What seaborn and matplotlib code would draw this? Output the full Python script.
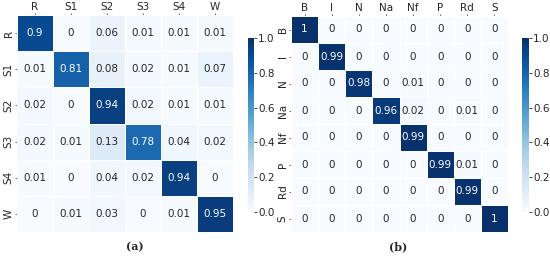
import matplotlib
matplotlib.use("Agg")
import matplotlib.pyplot as plt
import seaborn as sns
import numpy as np

labels_a = ["R", "S1", "S2", "S3", "S4", "W"]
row_R = [0.9, 0, 0.06, 0.01, 0.01, 0.01]
row_S1 = [0.01, 0.81, 0.08, 0.02, 0.01, 0.07]
row_S2 = [0.02, 0, 0.94, 0.02, 0.01, 0.01]
row_S3 = [0.02, 0.01, 0.13, 0.78, 0.04, 0.02]
row_S4 = [0.01, 0, 0.04, 0.02, 0.94, 0]
row_W = [0, 0.01, 0.03, 0, 0.01, 0.95]

labels_b = ["B", "I", "N", "Na", "Nf", "P", "Rd", "S"]
row_B = [1, 0, 0, 0, 0, 0, 0, 0]
row_I = [0, 0.99, 0, 0, 0, 0, 0, 0]
row_N = [0, 0, 0.98, 0, 0.01, 0, 0, 0]
row_Na = [0, 0, 0, 0.96, 0.02, 0, 0.01, 0]
row_Nf = [0, 0, 0, 0, 0.99, 0, 0, 0]
row_P = [0, 0, 0, 0, 0, 0.99, 0.01, 0]
row_Rd = [0, 0, 0, 0, 0, 0, 0.99, 0]
row_S = [0, 0, 0, 0, 0, 0, 0, 1]

mat_a = np.array([row_R, row_S1, row_S2, row_S3, row_S4, row_W])
mat_b = np.array([row_B, row_I, row_N, row_Na, row_Nf, row_P, row_Rd, row_S])

sns.set_theme(style="white")
plt.rcParams['font.family'] = ['DejaVu Sans']

fig = plt.figure(figsize=(5.5, 2.62), dpi=100)
W, H = 550.0, 262.0

def ax_px(x0, y0, x1, y1):
    return fig.add_axes([x0 / W, 1 - y1 / H, (x1 - x0) / W, (y1 - y0) / H])

ax_a = ax_px(17, 15, 233, 232)
cax_a = ax_px(248, 38, 254, 212)
ax_b = ax_px(291, 16, 508, 232)
cax_b = ax_px(522, 38, 529, 212)

def fmt(v):
    s = f"{v:.2f}".rstrip("0").rstrip(".")
    return s

for ax, cax, mat, labs in [(ax_a, cax_a, mat_a, labels_a), (ax_b, cax_b, mat_b, labels_b)]:
    annot = np.vectorize(fmt)(mat)
    sns.heatmap(mat, ax=ax, cbar_ax=cax, cmap="Blues", vmin=0, vmax=1,
                annot=annot, fmt="", annot_kws={"fontsize": 7.5},
                linewidths=0.6, linecolor="white",
                xticklabels=labs, yticklabels=labs,
                cbar_kws={"ticks": [0, 0.2, 0.4, 0.6, 0.8, 1.0]})
    ax.xaxis.tick_top()
    ax.tick_params(axis="both", length=1.5, width=0.6, labelsize=7.5, pad=1, color="#555555")
    ax.tick_params(axis="x", top=True, bottom=False)
    ax.tick_params(axis="y", left=True)
    plt.setp(ax.get_yticklabels(), rotation=90, va="center")
    plt.setp(ax.get_xticklabels(), rotation=0)
    cax.tick_params(labelsize=7.5, length=2, width=0.6, pad=1)
    cax.yaxis.set_major_formatter(matplotlib.ticker.FormatStrFormatter("%.1f"))
    for s in cax.spines.values():
        s.set_visible(False)

fig.text(135 / W, 1 - 247 / H, "(a)", ha="center", va="center",
         fontsize=8, family="DejaVu Serif", fontweight="bold")
fig.text(398 / W, 1 - 247 / H, "(b)", ha="center", va="center",
         fontsize=8, family="DejaVu Serif", fontweight="bold")

fig.savefig("out.png", dpi=100)
